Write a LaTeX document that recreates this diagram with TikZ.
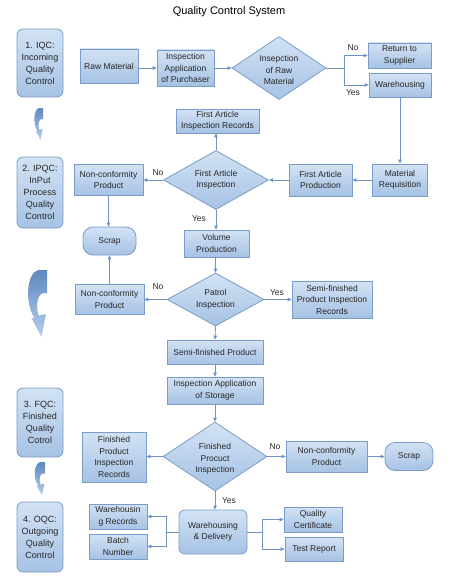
\documentclass[tikz,border=0pt]{standalone}
\usepackage{fontspec}
\setmainfont{Liberation Sans}
\usetikzlibrary{arrows.meta,shapes.geometric}
\definecolor{bord}{HTML}{7A9CC8}
\definecolor{lnc}{HTML}{6F94C4}
\definecolor{ftop}{HTML}{D2E2F4}
\definecolor{fbot}{HTML}{A6C2E4}
\definecolor{atop}{HTML}{5F88BE}
\definecolor{abot}{HTML}{B5CFEC}
\tikzset{
  base/.style={draw=bord, line width=0.8pt, top color=ftop, bottom color=fbot, align=center,
    font=\fontsize{8.5}{11.5}\selectfont, inner sep=1pt, text=black!85},
  sbox/.style={base, rectangle},
  rbox/.style={base, rectangle, rounded corners=6pt},
  sidebox/.style={base, rectangle, rounded corners=6pt, minimum width=46pt, font=\fontsize{9}{12}\selectfont},
  dia/.style={base, diamond, inner sep=0pt},
  dtext/.style={align=center, font=\fontsize{8.5}{11.5}\selectfont, text=black!85, inner sep=0pt},
  conn/.style={draw=lnc, line width=0.8pt},
  arr/.style={conn, -{Triangle[length=4pt,width=3.6pt]}},
  lbl/.style={font=\fontsize{8.5}{10}\selectfont, text=black!85, inner sep=0pt},
}
\newcommand\curvarr[4]{%
  \begin{scope}[shift={(#1,#2)}, x=#3pt, y=-#4pt]
    \shade[top color=atop, bottom color=abot]
      (0.6,0) -- (1,0) -- (1,0.35) .. controls (0.6,0.3) and (0.45,0.5) .. (0.62,0.68)
      -- (0.95,0.66) -- (0.75,1) -- (0.3,0.72) -- (0.42,0.71)
      .. controls (0,0.5) and (0.05,0.05) .. (0.6,0) -- cycle;
  \end{scope}}
\begin{document}
\begin{tikzpicture}[x=1pt,y=-1pt]
\useasboundingbox (0,0) rectangle (451,586);
\node[font=\fontsize{11}{13}\selectfont] (title) at (229,12) {Quality Control System};

% side boxes
\node[sidebox, minimum height=68pt] (iqc) at (40,63) {1. IQC:\\Incoming\\Quality\\Control};
\node[sidebox, minimum height=71pt] (ipqc) at (40,192.5) {2. IPQC:\\InPut\\Process\\Quality\\Control};
\node[sidebox, minimum height=69pt] (fqc) at (40,422.5) {3. FQC:\\Finished\\Quality\\Cotrol};
\node[sidebox, minimum height=70pt] (oqc) at (40,537) {4. OQC:\\Outgoing\\Quality\\Control};
\curvarr{33}{108}{10}{32}
\curvarr{25}{270}{22}{67}
\curvarr{33}{462}{12}{33}

% row 1
\node[sbox, minimum width=58pt, minimum height=34pt] (raw) at (109,66) {Raw Material};
\node[sbox, minimum width=57pt, minimum height=36pt] (iap) at (185.5,68) {Inspection\\Application\\of Purchaser};
\node[dia, minimum width=94pt, minimum height=63pt] (d1) at (279,68) {};
\node[dtext] (d1t) at (279,70) {Insepction\\of Raw\\Material};
\node[sbox, minimum width=63pt, minimum height=25pt] (ret) at (399.5,55.5) {Return to\\Supplier};
\node[sbox, minimum width=62pt, minimum height=24pt] (wh) at (400,85) {Warehousing};
\coordinate (br1) at (344,68);

% row 2
\node[sbox, minimum width=83pt, minimum height=24pt] (fair) at (217.5,121) {First Article\\Inspection Records};
\node[sbox, minimum width=69pt, minimum height=31pt] (nc1) at (108.5,180) {Non-conformity\\Product};
\node[dia, minimum width=105pt, minimum height=59pt] (d2) at (216,180) {};
\node[dtext] (d2t) at (216,180) {First Article\\Inspection};
\node[sbox, minimum width=63pt, minimum height=32pt] (fap) at (320.5,180) {First Article\\Production};
\node[sbox, minimum width=55pt, minimum height=32pt] (mr) at (400,180) {Material\\Requisition};

% row 3
\node[rbox, rounded corners=10pt, minimum width=53pt, minimum height=28pt] (scrap1) at (109.5,241) {Scrap};
\node[sbox, minimum width=65pt, minimum height=27pt] (vp) at (216.5,243.5) {Volume\\Production};
\node[sbox, minimum width=69pt, minimum height=30pt] (nc2) at (109.5,299.5) {Non-conformity\\Product};
\node[dia, minimum width=97pt, minimum height=53pt] (d3) at (215.5,299.5) {};
\node[dtext] (d3t) at (215.5,299.5) {Patrol\\Inspection};
\node[sbox, minimum width=80pt, minimum height=37pt] (sfpir) at (332,299.5) {Semi-finished\\Product Inspection\\Records};
\node[sbox, minimum width=96pt, minimum height=24pt] (sfp) at (215,352) {Semi-finished Product};
\node[sbox, minimum width=96pt, minimum height=27pt] (ias) at (215,390.5) {Inspection Application\\of Storage};

% row 4
\node[sbox, minimum width=64pt, minimum height=50pt] (fpir) at (114,457) {Finished\\Product\\Inspection\\Records};
\node[dia, minimum width=104pt, minimum height=69pt] (d4) at (215,456.5) {};
\node[dtext] (d4t) at (215,459) {Finished\\Procuct\\Inspection};
\node[sbox, minimum width=81pt, minimum height=31pt] (nc3) at (326.5,456.5) {Non-conformity\\Product};
\node[rbox, rounded corners=10pt, minimum width=48pt, minimum height=28pt] (scrap2) at (409,456.5) {Scrap};

% row 5
\node[sbox, minimum width=58pt, minimum height=25pt] (whr) at (118,516.5) {Warehousin\\g Records};
\node[sbox, minimum width=58pt, minimum height=25pt] (bn) at (118,546.5) {Batch\\Number};
\node[rbox, minimum width=68pt, minimum height=44pt] (wd) at (213,532) {Warehousing\\\& Delivery};
\node[sbox, minimum width=58pt, minimum height=25pt] (qc) at (313,519.5) {Quality\\Certificate};
\node[sbox, minimum width=58pt, minimum height=24pt] (tr) at (314,549) {Test Report};
\coordinate (brl) at (166,532);
\coordinate (brr) at (262,532);

% connectors
\draw[arr] (raw.east |- iap) -- (iap.west);
\draw[arr] (iap) -- (d1);
\draw[conn] (d1.east) -- (br1);
\draw[arr] (br1) |- (ret.west);
\draw[arr] (br1) |- (wh.west);
\draw[arr] (wh.south) -- (wh.south |- mr.north);
\draw[arr] (mr) -- (fap);
\draw[arr] (fap) -- (d2.east);
\draw[arr] (d2.north) -- (d2.north |- fair.south);
\draw[arr] (d2.west) -- (nc1.east);
\draw[arr] (d2.south) -- (d2.south |- vp.north);
\draw[arr] (nc1.south) -- (nc1.south |- scrap1.north);
\draw[arr] (vp.south -| d3.north) -- (d3.north);
\draw[arr] (d3.west) -- (nc2.east);
\draw[arr] (nc2.north) -- (nc2.north |- scrap1.south);
\draw[arr] (d3.east) -- (sfpir.west);
\draw[arr] (d3.south) -- (sfp.north);
\draw[arr] (sfp.south) -- (ias.north);
\draw[arr] (ias.south) -- (d4.north);
\draw[arr] (d4.west) -- (fpir.east |- d4.west);
\draw[arr] (d4.east) -- (nc3.west |- d4.east);
\draw[arr] (nc3.east) -- (scrap2.west |- nc3.east);
\draw[arr] (d4.south) -- (d4.south |- wd.north);
\draw[conn] (wd.west) -- (brl);
\draw[arr] (brl) |- (whr.east);
\draw[arr] (brl) |- (bn.east);
\draw[conn] (wd.east) -- (brr);
\draw[arr] (brr) |- (qc.west);
\draw[arr] (brr) |- (tr.west);

% labels
\node[lbl] (l1) at (353,48) {No};
\node[lbl] (l2) at (353,93) {Yes};
\node[lbl] (l3) at (158,173) {No};
\node[lbl] (l4) at (199,219) {Yes};
\node[lbl] (l5) at (158,287) {No};
\node[lbl] (l6) at (277,293) {Yes};
\node[lbl] (l7) at (275,447) {No};
\node[lbl] (l8) at (229,501) {Yes};
\end{tikzpicture}
\end{document}
